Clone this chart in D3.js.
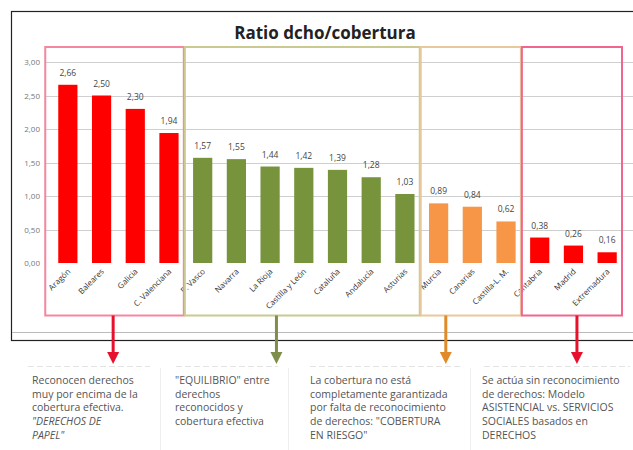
<!DOCTYPE html>
<html>
<head>
<meta charset="utf-8">
<script src="https://cdnjs.cloudflare.com/ajax/libs/d3/7.8.5/d3.min.js"></script>
<style>
  body { margin: 0; background: #fff; }
  svg { display: block; font-family: "Open Sans", "Liberation Sans", sans-serif; }
</style>
</head>
<body>
<svg width="633" height="450"></svg>
<script>
var svg = d3.select('svg');

// regions and their ratio values
var regions = ['Aragón', 'Baleares', 'Galicia', 'C. Valenciana', 'P. Vasco', 'Navarra', 'La Rioja',
  'Castilla y León', 'Cataluña', 'Andalucía', 'Asturias', 'Murcia', 'Canarias', 'Castilla-L. M.',
  'Cantabria', 'Madrid', 'Extremadura'];
var ratios = [2.66, 2.50, 2.30, 1.94, 1.57, 1.55, 1.44, 1.42, 1.39, 1.28, 1.03, 0.89, 0.84, 0.62, 0.38, 0.26, 0.16];
var yTicks = [0, 0.5, 1, 1.5, 2, 2.5, 3];

// groups of regions (first index, last index)
var groupFirst = [0, 4, 11, 14];
var groupLast = [3, 10, 13, 16];
var barColors = ['#ff0000', '#77933c', '#f79646', '#ff0000'];
var boxColors = ['#f4869e', '#c9c990', '#e9c89c', '#f0668c'];
var arrowColors = ['#e8112d', '#7f8f4a', '#e08a2a', '#e8112d'];
var arrowFrac = [0.49, 0.39, 0.25, 0.55]; // where the arrow leaves each box

var notes = [
  ['Reconocen derechos', 'muy por encima de la', 'cobertura efectiva.', '"DERECHOS DE', 'PAPEL"'],
  ['"EQUILIBRIO" entre', 'derechos', 'reconocidos y', 'cobertura efectiva'],
  ['La cobertura no está', 'completamente garantizada', 'por  falta de reconocimiento', 'de derechos: "COBERTURA', 'EN RIESGO"'],
  ['Se actúa sin reconocimiento', 'de derechos: Modelo', 'ASISTENCIAL vs. SERVICIOS', 'SOCIALES basados en', 'DERECHOS']
];
var noteLeft = [18, 166, 300, 474];
var noteRight = [160, 288, 470, 640];
var noteText = [32, 175, 310, 482];

var fmt = d => d3.format('.2f')(d).replace('.', ',');

var x = d3.scaleBand()
  .domain(regions)
  .range([51, 624])
  .paddingInner(0.43)
  .paddingOuter(0.215);

var y = d3.scaleLinear()
  .domain([0, 3])
  .range([263, 62]);

// chart frame
svg.append('rect')
  .attr('x', 11.5).attr('y', 11.5)
  .attr('width', 640).attr('height', 329)
  .attr('fill', '#fff')
  .attr('stroke', '#222')
  .attr('stroke-width', 1.2);

svg.append('line')
  .attr('x1', 12).attr('x2', 633)
  .attr('y1', 332.5).attr('y2', 332.5)
  .attr('stroke', '#bbb');

// gridlines and y labels
svg.append('g')
  .selectAll('line')
  .data(yTicks.slice(1))
  .join('line')
    .attr('x1', 45).attr('x2', 633)
    .attr('y1', d => Math.round(y(d)) + 0.5)
    .attr('y2', d => Math.round(y(d)) + 0.5)
    .attr('stroke', '#cfcfcf');

svg.append('g')
  .selectAll('text')
  .data(yTicks)
  .join('text')
    .attr('x', 40)
    .attr('y', d => y(d) + 3)
    .attr('text-anchor', 'end')
    .attr('font-size', 8)
    .attr('fill', '#777')
    .text(fmt);

svg.append('text')
  .attr('x', 325)
  .attr('y', 39)
  .attr('text-anchor', 'middle')
  .attr('font-size', 17)
  .attr('font-weight', 'bold')
  .attr('fill', '#222')
  .text('Ratio dcho/cobertura');

// bars
var groupOf = i => groupFirst.filter(g => g <= i).length - 1;

svg.append('g')
  .selectAll('rect')
  .data(ratios)
  .join('rect')
    .attr('x', (d, i) => x(regions[i]))
    .attr('y', d => y(d))
    .attr('width', x.bandwidth())
    .attr('height', d => y(0) - y(d))
    .attr('fill', (d, i) => barColors[groupOf(i)]);

svg.append('g')
  .selectAll('text')
  .data(ratios)
  .join('text')
    .attr('x', (d, i) => x(regions[i]) + x.bandwidth() / 2)
    .attr('y', d => y(d) - 9)
    .attr('text-anchor', 'middle')
    .attr('font-size', 8.5)
    .attr('fill', '#444')
    .text(fmt);

svg.append('g')
  .selectAll('text')
  .data(regions)
  .join('text')
    .attr('text-anchor', 'end')
    .attr('font-size', 8)
    .attr('fill', '#333')
    .attr('transform', d => 'translate(' + (x(d) + x.bandwidth() / 2 + 3) + ',272)rotate(-45)')
    .text(d => d);

// group boxes and arrows
var step = x.step();
var boxTop = 47, boxBottom = 315.5;
groupFirst.forEach(function (f, g) {
  var x0 = x(regions[f]) - (f === 0 ? 13 : step * 0.43 / 2 + 1);
  var x1 = x(regions[groupLast[g]]) + x.bandwidth() + step * 0.43 / 2 - 2;
  svg.append('rect')
    .attr('x', x0).attr('y', boxTop)
    .attr('width', x1 - x0).attr('height', boxBottom - boxTop)
    .attr('fill', 'none')
    .attr('stroke', boxColors[g])
    .attr('stroke-width', 2);

  var ax = x0 + (x1 - x0) * arrowFrac[g];
  svg.append('line')
    .attr('x1', ax).attr('x2', ax)
    .attr('y1', boxBottom).attr('y2', 354)
    .attr('stroke', arrowColors[g])
    .attr('stroke-width', 3);
  svg.append('path')
    .attr('d', 'M' + (ax - 6) + ',352L' + (ax + 6) + ',352L' + ax + ',364Z')
    .attr('fill', arrowColors[g]);
});

// note boxes below the chart
notes.forEach(function (lines, n) {
  svg.append('line')
    .attr('x1', noteLeft[n] + 10).attr('x2', noteRight[n] - 10)
    .attr('y1', 366.5).attr('y2', 366.5)
    .attr('stroke', '#e3e3e3')
    .attr('stroke-dasharray', '6,3');
  svg.append('line')
    .attr('x1', noteRight[n] + 0.5).attr('x2', noteRight[n] + 0.5)
    .attr('y1', 368).attr('y2', 450)
    .attr('stroke', '#eee');
  var t = svg.append('text')
    .attr('font-size', 10.5)
    .attr('fill', '#555');
  lines.forEach(function (line, k) {
    t.append('tspan')
      .attr('x', noteText[n])
      .attr('y', 384 + k * 13.7)
      .attr('font-style', (n === 0 && k >= 3) ? 'italic' : null)
      .text(line);
  });
});
</script>
</body>
</html>
